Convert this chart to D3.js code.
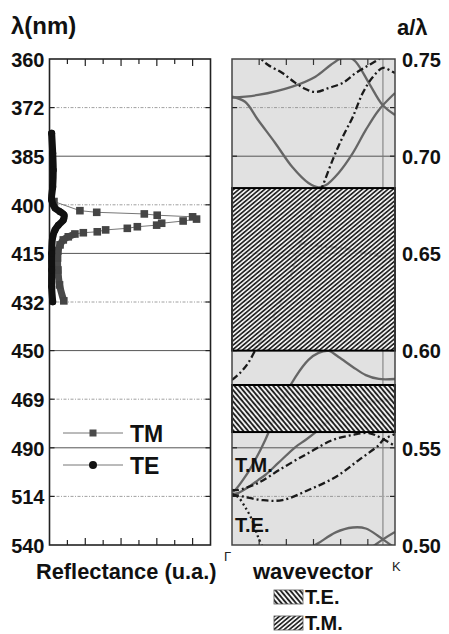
<!DOCTYPE html>
<html>
<head>
<meta charset="utf-8">
<script src="https://cdn.jsdelivr.net/npm/d3@7"></script>
<style>
  body { margin: 0; background: #fff; }
  text { font-family: "Liberation Sans", Arial, sans-serif; }
</style>
</head>
<body>
<div id="chart"></div>
<script>
var svgWidth = 449;
var svgHeight = 634;

// lattice constant (nm): a/lambda <-> lambda
var latticeA = 270;

// tick values
var freqTicks = [0.75, 0.725, 0.70, 0.675, 0.65, 0.625, 0.60, 0.575, 0.55, 0.525, 0.50];
var wavelengthTicks = [360, 372, 385, 400, 415, 432, 450, 469, 490, 514, 540];
var freqLabelTicks = [0.75, 0.70, 0.65, 0.60, 0.55, 0.50];

// reflectance spectra (lambda nm, reflectance a.u.)
var teWavelength = [379.3, 384.9, 389.7, 394.6, 398.5, 401.0, 402.1, 403.1, 404.7, 406.3, 407.8, 410.0, 415.4, 420.9, 426.6, 431.9];
var teReflect    = [0.12, 0.18, 0.21, 0.18, 0.12, 0.31, 0.59, 0.81, 0.77, 0.49, 0.31, 0.18, 0.12, 0.12, 0.12, 0.18];

var tmWavelength = [399.0, 401.8, 402.3, 402.8, 403.2, 403.7, 404.4, 405.0, 405.7, 406.3, 406.8, 407.3, 407.8, 408.4, 408.7, 409.1, 410.0, 411.0, 412.6, 414.6, 416.9, 420.9, 426.0, 431.6];
var tmReflect    = [0.25, 1.70, 2.64, 5.30, 6.02, 8.00, 8.22, 7.47, 6.27, 5.99, 4.91, 4.35, 3.14, 2.67, 1.89, 1.42, 1.05, 0.77, 0.59, 0.47, 0.45, 0.47, 0.56, 0.80];
var tmDenseFrom = 409; // markers merge into a thick band beyond this wavelength

// photonic gaps (a/lambda)
var tmGap = [0.600, 0.6836];
var teGap = [0.5581, 0.5823];

// band structure, [k (Gamma=0 .. edge=1), a/lambda]
var tmBandA = [[0, 0.7306], [0.080, 0.7280], [0.160, 0.7186], [0.265, 0.7068], [0.370, 0.6944], [0.469, 0.6862], [0.531, 0.6840], [0.574, 0.6850], [0.654, 0.6914], [0.741, 0.7016], [0.821, 0.7135], [0.901, 0.7238], [1.0, 0.7325]];
var tmBandB = [[0, 0.7301], [0.160, 0.7315], [0.370, 0.7358], [0.512, 0.7409], [0.605, 0.7469], [0.667, 0.7503], [0.716, 0.7510], [0.759, 0.7486], [0.841, 0.7375], [0.924, 0.7263], [1.0, 0.7212]];
var tmBandC = [[0, 0.5273], [0.019, 0.5283], [0.080, 0.5350], [0.142, 0.5437], [0.204, 0.5540], [0.309, 0.5746], [0.389, 0.5864], [0.469, 0.5952], [0.531, 0.5988], [0.593, 0.5998], [0.654, 0.5967], [0.741, 0.5916], [0.821, 0.5874], [0.901, 0.5854], [1.0, 0.5854]];
var tmBandD = [[0, 0.5262], [0.037, 0.5267], [0.111, 0.5304], [0.160, 0.5334], [0.204, 0.5360], [0.284, 0.5422], [0.389, 0.5504], [0.451, 0.5540], [0.531, 0.5592], [0.636, 0.5669], [0.778, 0.5730], [0.901, 0.5741], [1.0, 0.5746]];
var tmBandE = [[0.481, 0.4985], [0.531, 0.5010], [0.636, 0.5065], [0.741, 0.5090], [0.821, 0.5085], [0.901, 0.5044], [0.926, 0.5029], [1.0, 0.4985]];
var tmBandF = [[0.852, 0.4985], [0.926, 0.5029], [1.0, 0.5067]];

var teBandA = [[0.142, 0.7536], [0.173, 0.7505], [0.222, 0.7469], [0.309, 0.7428], [0.389, 0.7377], [0.451, 0.7346], [0.512, 0.7330], [0.593, 0.7351], [0.679, 0.7377], [0.759, 0.7428], [0.840, 0.7469], [0.901, 0.7500], [0.926, 0.7520]];
var teBandB = [[0, 0.5849], [0.049, 0.5885], [0.099, 0.5936], [0.160, 0.6029], [0.204, 0.6091], [0.265, 0.6193], [0.309, 0.6276], [0.358, 0.6379], [0.401, 0.6502], [0.438, 0.6605], [0.494, 0.6708], [0.531, 0.6800], [0.556, 0.6847], [0.617, 0.6980], [0.679, 0.7099], [0.741, 0.7202], [0.802, 0.7325], [0.864, 0.7407], [0.926, 0.7454], [0.988, 0.7433], [1.0, 0.7428]];
var teBandC = [[0.420, 0.6553], [0.512, 0.6538], [0.593, 0.6533], [0.679, 0.6528], [0.778, 0.6507], [0.926, 0.6481], [1.0, 0.6466]];
var teBandD = [[0, 0.5283], [0.037, 0.5283], [0.160, 0.5319], [0.309, 0.5396], [0.469, 0.5473], [0.617, 0.5540], [0.741, 0.5566], [0.840, 0.5576], [0.926, 0.5545], [1.0, 0.5509]];
var teBandE = [[0, 0.5257], [0.019, 0.5257], [0.080, 0.5247], [0.185, 0.5231], [0.309, 0.5231], [0.469, 0.5283], [0.636, 0.5350], [0.778, 0.5437], [0.901, 0.5514], [0.926, 0.5540], [1.0, 0.5571]];
var teBandDotted = [[0, 0.5262], [0.037, 0.5247], [0.080, 0.5196], [0.123, 0.5129], [0.160, 0.5041], [0.191, 0.4985]];

var kPointK = 0.926;

// layout
var plotTop = 59, plotBottom = 545;
var leftPanel = { x0: 49.5, x1: 210.5 };
var rightPanel = { x0: 232, x1: 395 };

var svg = d3.select("#chart")
  .append("svg")
  .attr("width", svgWidth)
  .attr("height", svgHeight);

var defs = svg.append("defs");

// hatch patterns
function addHatch(id, angle, size, sw) {
  var p = defs.append("pattern")
    .attr("id", id)
    .attr("patternUnits", "userSpaceOnUse")
    .attr("width", size)
    .attr("height", size)
    .attr("patternTransform", `rotate(${angle})`);
  p.append("rect").attr("width", size).attr("height", size)
    .attr("fill", "#f2f2f2").attr("fill-opacity", 0.8);
  p.append("line").attr("x1", size / 2).attr("y1", -1).attr("x2", size / 2).attr("y2", size + 1)
    .attr("stroke", "#111").attr("stroke-width", sw);
}
addHatch("hatchTM", 50, 3.3, 1.5);
addHatch("hatchTE", -40, 3.7, 1.7);

defs.append("clipPath").attr("id", "clipRight")
  .append("rect")
  .attr("x", rightPanel.x0).attr("y", plotTop)
  .attr("width", rightPanel.x1 - rightPanel.x0).attr("height", plotBottom - plotTop);

// scales
var yScale = d3.scaleLinear().domain([0.50, 0.75]).range([plotBottom, plotTop]);
var yWave = function(l) { return yScale(latticeA / l); };
var xRefl = d3.scaleLinear().domain([0, 9]).range([leftPanel.x0, leftPanel.x1]);
var xK = d3.scaleLinear().domain([0, 1]).range([rightPanel.x0, rightPanel.x1]);

// ---------- right panel background ----------
svg.append("rect")
  .attr("x", rightPanel.x0).attr("y", plotTop)
  .attr("width", rightPanel.x1 - rightPanel.x0).attr("height", plotBottom - plotTop)
  .attr("fill", "#e1e1e1");

// gridlines for both panels
function isMajor(f) { return Math.round(f * 1000) % 50 === 0; }
[leftPanel, rightPanel].forEach(function(p) {
  var g = svg.append("g");
  freqTicks.slice(1, -1).forEach(function(f) {
    g.append("line")
      .attr("x1", p.x0).attr("x2", p.x1)
      .attr("y1", yScale(f)).attr("y2", yScale(f))
      .attr("stroke", isMajor(f) ? "#555" : "#888")
      .attr("stroke-width", isMajor(f) ? 1 : 0.8)
      .attr("stroke-dasharray", isMajor(f) ? null : "3,1.5,1,1.5");
    // edge ticks
    g.append("line").attr("x1", p.x0).attr("x2", p.x0 + 5)
      .attr("y1", yScale(f)).attr("y2", yScale(f)).attr("stroke", "#222").attr("stroke-width", 1.2);
    g.append("line").attr("x1", p.x1 - 5).attr("x2", p.x1)
      .attr("y1", yScale(f)).attr("y2", yScale(f)).attr("stroke", "#222").attr("stroke-width", 1.2);
  });
});

// vertical K line
svg.append("line")
  .attr("x1", xK(kPointK)).attr("x2", xK(kPointK))
  .attr("y1", plotTop).attr("y2", plotBottom)
  .attr("stroke", "#777").attr("stroke-width", 1);

// ---------- bands ----------
var bandLine = d3.line()
  .x(d => xK(d[0]))
  .y(d => yScale(d[1]))
  .curve(d3.curveCatmullRom.alpha(0.5));

var bandsGroup = svg.append("g").attr("clip-path", "url(#clipRight)");

[tmBandA, tmBandB, tmBandC, tmBandD, tmBandE, tmBandF].forEach(function(b) {
  bandsGroup.append("path").datum(b)
    .attr("d", bandLine)
    .attr("fill", "none")
    .attr("stroke", "#666")
    .attr("stroke-width", 2.3);
});
[teBandA, teBandB, teBandC, teBandD, teBandE].forEach(function(b) {
  bandsGroup.append("path").datum(b)
    .attr("d", bandLine)
    .attr("fill", "none")
    .attr("stroke", "#1a1a1a")
    .attr("stroke-width", 2.3)
    .attr("stroke-dasharray", "7,3,2,3");
});
bandsGroup.append("path").datum(teBandDotted)
  .attr("d", bandLine)
  .attr("fill", "none")
  .attr("stroke", "#1a1a1a")
  .attr("stroke-width", 2.3)
  .attr("stroke-dasharray", "2,3");

// gaps
svg.append("rect")
  .attr("x", rightPanel.x0).attr("y", yScale(tmGap[1]))
  .attr("width", rightPanel.x1 - rightPanel.x0)
  .attr("height", yScale(tmGap[0]) - yScale(tmGap[1]))
  .attr("fill", "url(#hatchTM)")
  .attr("stroke", "#000").attr("stroke-width", 2);
svg.append("rect")
  .attr("x", rightPanel.x0).attr("y", yScale(teGap[1]))
  .attr("width", rightPanel.x1 - rightPanel.x0)
  .attr("height", yScale(teGap[0]) - yScale(teGap[1]))
  .attr("fill", "url(#hatchTE)")
  .attr("stroke", "#000").attr("stroke-width", 2);

// right panel frame + k ticks
svg.append("rect")
  .attr("x", rightPanel.x0).attr("y", plotTop)
  .attr("width", rightPanel.x1 - rightPanel.x0).attr("height", plotBottom - plotTop)
  .attr("fill", "none").attr("stroke", "#444").attr("stroke-width", 1.5);
d3.range(1, 6).forEach(function(i) {
  var x = xK(i / 6);
  svg.append("line").attr("x1", x).attr("x2", x).attr("y1", plotTop).attr("y2", plotTop + 6)
    .attr("stroke", "#333").attr("stroke-width", 1.2);
  svg.append("line").attr("x1", x).attr("x2", x).attr("y1", plotBottom - 6).attr("y2", plotBottom)
    .attr("stroke", "#333").attr("stroke-width", 1.2);
});

svg.append("text").attr("x", 235).attr("y", 472)
  .attr("font-size", 20).attr("font-weight", "bold").attr("fill", "#111").text("T.M.");
svg.append("text").attr("x", 235).attr("y", 532)
  .attr("font-size", 20).attr("font-weight", "bold").attr("fill", "#111").text("T.E.");

// ---------- left panel ----------
svg.append("rect")
  .attr("x", leftPanel.x0).attr("y", plotTop)
  .attr("width", leftPanel.x1 - leftPanel.x0).attr("height", plotBottom - plotTop)
  .attr("fill", "none").attr("stroke", "#222").attr("stroke-width", 1.6);
d3.range(1, 9).forEach(function(i) {
  var x = xRefl(i), len = i % 2 === 0 ? 7 : 5;
  svg.append("line").attr("x1", x).attr("x2", x).attr("y1", plotTop).attr("y2", plotTop + len)
    .attr("stroke", "#222").attr("stroke-width", 1.2);
  svg.append("line").attr("x1", x).attr("x2", x).attr("y1", plotBottom - len).attr("y2", plotBottom)
    .attr("stroke", "#222").attr("stroke-width", 1.2);
});

var teData = teWavelength.map((l, i) => ({ l: l, r: teReflect[i] }));
var tmData = tmWavelength.map((l, i) => ({ l: l, r: tmReflect[i] }));

var specLine = d3.line()
  .x(d => xRefl(d.r))
  .y(d => yWave(d.l))
  .curve(d3.curveCatmullRom.alpha(0.5));

// TM: thin connecting line, squares, dense thick tail
svg.append("path").datum(tmData)
  .attr("d", d3.line().x(d => xRefl(d.r)).y(d => yWave(d.l)))
  .attr("fill", "none").attr("stroke", "#777").attr("stroke-width", 1);
svg.append("path").datum(tmData.filter(d => d.l >= tmDenseFrom))
  .attr("d", specLine)
  .attr("fill", "none").attr("stroke", "#4a4a4a").attr("stroke-width", 7)
  .attr("stroke-linejoin", "round");
svg.selectAll(".tmSq").data(tmData).enter().append("rect")
  .attr("class", "tmSq")
  .attr("x", d => xRefl(d.r) - 3.8).attr("y", d => yWave(d.l) - 3.8)
  .attr("width", 7.6).attr("height", 7.6)
  .attr("fill", "#454545");

// TE: dense circles -> thick black line
svg.append("path").datum(teData)
  .attr("d", specLine)
  .attr("fill", "none").attr("stroke", "#111").attr("stroke-width", 7)
  .attr("stroke-linecap", "round").attr("stroke-linejoin", "round");
svg.selectAll(".teDot").data(teData).enter().append("circle")
  .attr("class", "teDot")
  .attr("cx", d => xRefl(d.r)).attr("cy", d => yWave(d.l))
  .attr("r", 3.5).attr("fill", "#111");

// legend TM / TE
var legend = svg.append("g");
legend.append("line").attr("x1", 63).attr("x2", 123).attr("y1", 433).attr("y2", 433)
  .attr("stroke", "#777").attr("stroke-width", 1);
legend.append("rect").attr("x", 89.5).attr("y", 429.5).attr("width", 7).attr("height", 7).attr("fill", "#4a4a4a");
legend.append("text").attr("x", 130).attr("y", 442)
  .attr("font-size", 23).attr("font-weight", "bold").attr("fill", "#111").text("TM");
legend.append("line").attr("x1", 63).attr("x2", 123).attr("y1", 465).attr("y2", 465)
  .attr("stroke", "#777").attr("stroke-width", 1);
legend.append("circle").attr("cx", 93).attr("cy", 465).attr("r", 4).attr("fill", "#111");
legend.append("text").attr("x", 130).attr("y", 474)
  .attr("font-size", 23).attr("font-weight", "bold").attr("fill", "#111").text("TE");

// ---------- axes ----------
var leftAxis = d3.axisLeft(yScale)
  .tickValues(freqTicks)
  .tickFormat((d, i) => wavelengthTicks[i])
  .tickSize(0).tickPadding(4);
var gL = svg.append("g").attr("transform", `translate(${leftPanel.x0 - 1},0)`).call(leftAxis);
gL.select(".domain").remove();
gL.selectAll("text").attr("font-size", 20).attr("font-weight", "bold").attr("fill", "#111")
  .attr("font-family", "Liberation Sans, Arial, sans-serif").attr("dy", "0.36em");

var rightAxis = d3.axisRight(yScale)
  .tickValues(freqLabelTicks)
  .tickFormat(d3.format(".2f"))
  .tickSize(0).tickPadding(7);
var gR = svg.append("g").attr("transform", `translate(${rightPanel.x1},0)`).call(rightAxis);
gR.select(".domain").remove();
gR.selectAll("text").attr("font-size", 20).attr("font-weight", "bold").attr("fill", "#111")
  .attr("font-family", "Liberation Sans, Arial, sans-serif").attr("dy", "0.36em");

// titles
svg.append("text").attr("x", 11).attr("y", 34)
  .attr("font-size", 24).attr("font-weight", "bold").attr("fill", "#111").text("λ(nm)");
svg.append("text").attr("x", 397).attr("y", 35)
  .attr("font-size", 22).attr("font-weight", "bold").attr("fill", "#111").text("a/λ");
svg.append("text").attr("x", 36).attr("y", 579)
  .attr("font-size", 21.8).attr("font-weight", "bold").attr("fill", "#111").text("Reflectance (u.a.)");
svg.append("text").attr("x", 253).attr("y", 579)
  .attr("font-size", 22).attr("font-weight", "bold").attr("fill", "#111").text("wavevector");
svg.append("text").attr("x", 224).attr("y", 561)
  .attr("font-size", 13).attr("fill", "#222").text("Γ");
svg.append("text").attr("x", 392).attr("y", 571)
  .attr("font-size", 13).attr("fill", "#222").text("K");

// gap legend
var gapLegend = [
  { label: "T.E.", fill: "url(#hatchTE)", y: 590 },
  { label: "T.M.", fill: "url(#hatchTM)", y: 616 }
];
gapLegend.forEach(function(d) {
  svg.append("rect").attr("x", 274).attr("y", d.y).attr("width", 29).attr("height", 14)
    .attr("fill", d.fill).attr("stroke", "#555").attr("stroke-width", 0.8);
  svg.append("text").attr("x", 305).attr("y", d.y + 14)
    .attr("font-size", 20).attr("font-weight", "bold").attr("fill", "#111").text(d.label);
});
</script>
</body>
</html>
